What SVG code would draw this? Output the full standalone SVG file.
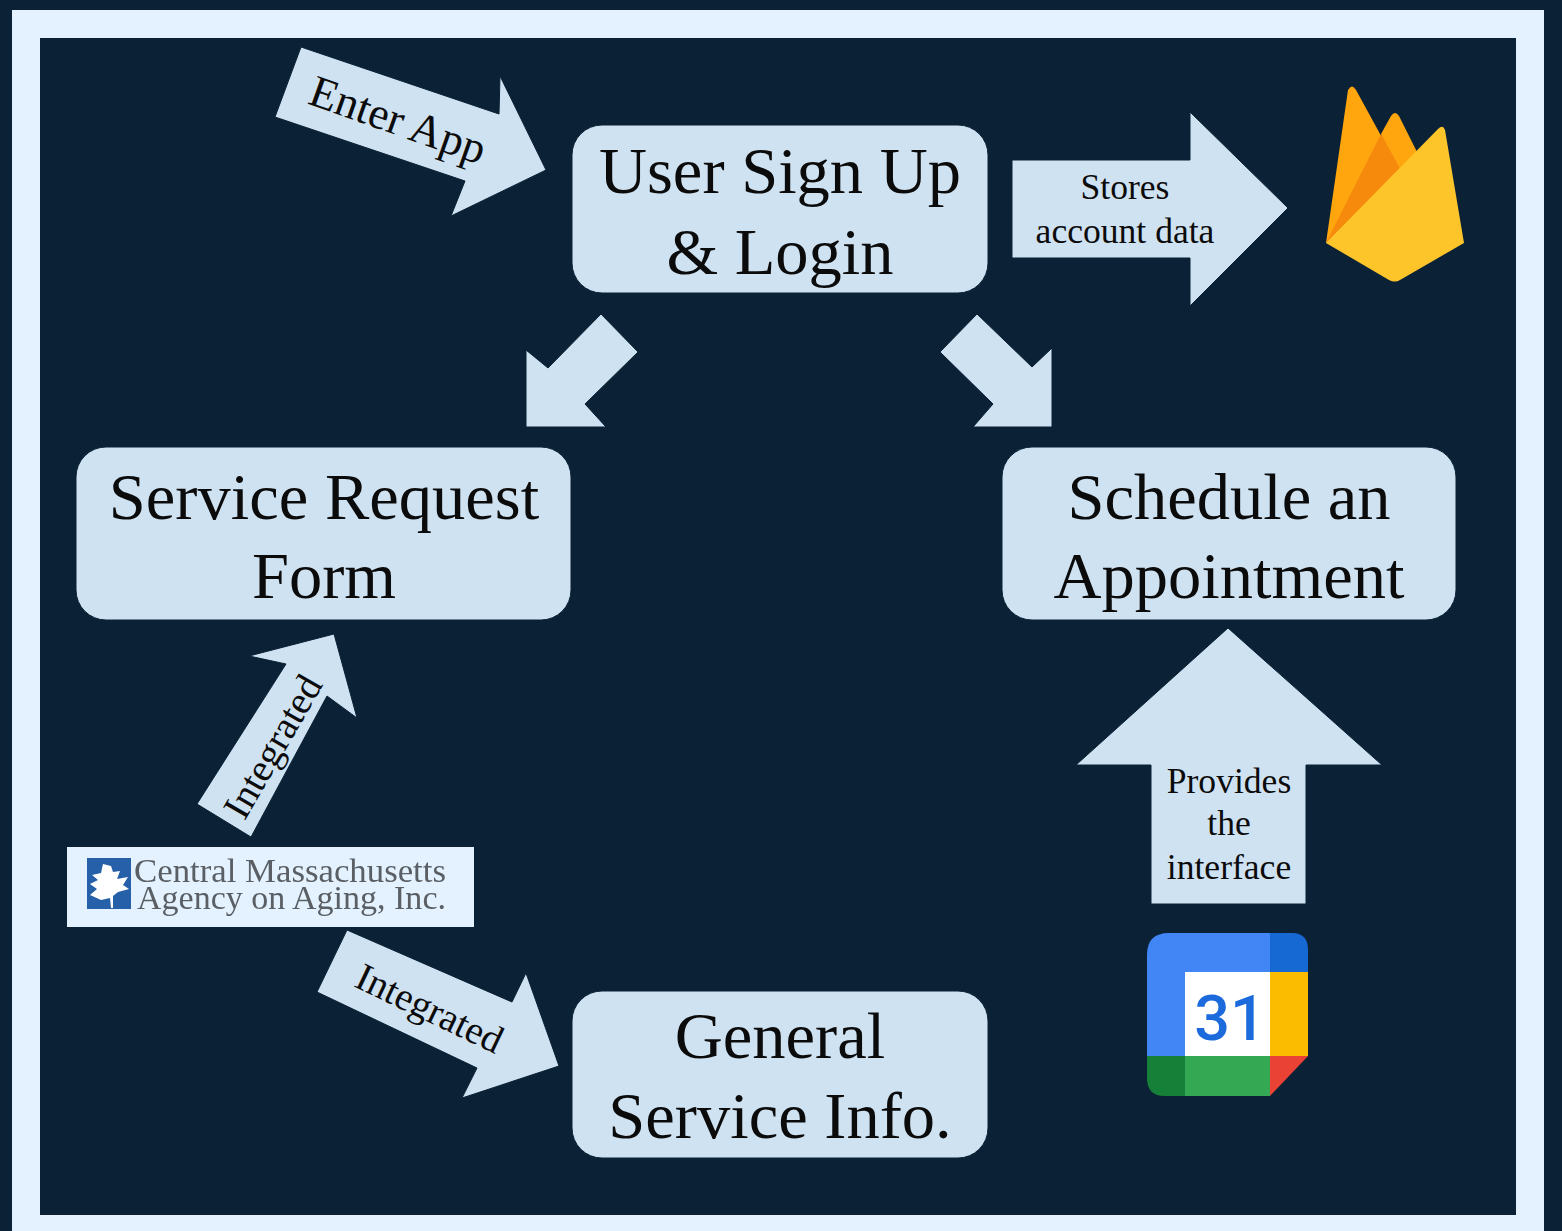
<svg xmlns="http://www.w3.org/2000/svg" width="1562" height="1231" viewBox="0 0 1562 1231">
<style>
.box{fill:#cfe2f1;stroke:#0a2136;stroke-width:1}
.arrow{fill:#cfe2f1;stroke:#0a2136;stroke-width:1}
text{font-family:"Liberation Serif","Times New Roman",serif;fill:#0b0b0b;text-anchor:middle}
.big{font-size:66.5px}
.small{font-size:35.6px}
.diag{font-size:39px}
.logo{font-size:33px;fill:#5a5f65;text-anchor:start}
</style>
<defs><filter id="soft" x="-5%" y="-5%" width="110%" height="110%"><feGaussianBlur stdDeviation="0.7"/></filter></defs>
<rect width="1562" height="1231" fill="#0b2236"/>
<rect x="12" y="10" width="1532" height="1221" fill="#e3f2fe"/>
<rect x="40" y="38" width="1476" height="1177" fill="#0b2236"/>
<g id="connectors">
<polygon class="arrow" points="301,47 499,114 500,76 546,170 451,216 465,181 275,117"/>
<text style="font-size:45px" transform="translate(393,134) rotate(19.5)">Enter App</text>
<polygon class="arrow" points="1012,160 1190,160 1190,112 1288,208 1190,306 1190,258 1012,258"/>
<text class="small" x="1125" y="199">Stores</text>
<text class="small" x="1125" y="243">account data</text>
<polygon class="arrow" points="601,314 638,352 585,404 606,427 526,427 526,350 548,368"/>
<polygon class="arrow" points="977,314 940,352 993,404 973,427 1052,427 1052,348 1032,367"/>
<polygon class="arrow" points="1151,904 1151,765 1076,765 1228,628 1382,765 1306,765 1306,904"/>
<text class="small" x="1229" y="793">Provides</text>
<text class="small" x="1229" y="835">the</text>
<text class="small" x="1229" y="879">interface</text>
<polygon class="arrow" points="197,804 286,664 249,656 334,634 357,718 327,696 251,837"/>
<text class="diag" transform="translate(284,753) rotate(-60)">Integrated</text>
<polygon class="arrow" points="347,930 512,1002 526,973 559,1066 462,1098 477,1068 317,992"/>
<text class="diag" transform="translate(424,1020) rotate(25.5)">Integrated</text>
</g>
<g id="node-login">
<rect class="box" x="572" y="125" width="416" height="168" rx="30"/>
<text class="big" x="780" y="193">User Sign Up</text>
<text class="big" x="780" y="274">&amp; Login</text>
</g>
<g id="node-service">
<rect class="box" x="76" y="447" width="495" height="173" rx="30"/>
<text class="big" x="324" y="519">Service Request</text>
<text class="big" x="324" y="598">Form</text>
</g>
<g id="node-schedule">
<rect class="box" x="1002" y="447" width="454" height="173" rx="30"/>
<text class="big" x="1229" y="519">Schedule an</text>
<text class="big" x="1229" y="598">Appointment</text>
</g>
<g id="node-info">
<rect class="box" x="572" y="991" width="416" height="167" rx="30"/>
<text class="big" x="780" y="1058">General</text>
<text class="big" x="780" y="1138">Service Info.</text>
</g>
<g id="firebase" filter="url(#soft)">
<path d="M1326,243 L1348,90 Q1352,83 1356,90 L1385,143 L1350,225 Z" fill="#ffa50e"/>
<path d="M1381,134 L1391,116 Q1395,110 1399,116 L1417,152 L1400,180 Z" fill="#ffa50e"/>
<path d="M1326,243 L1381,134 L1402,172 Z" fill="#f58a0c"/>
<path d="M1326,243 L1438,129 Q1443,124 1445,130 L1464,243 L1400,280 Q1395,283 1389,280 Z" fill="#fdc52b"/>
</g>
<g id="calendar" filter="url(#soft)">
<path d="M1147,955 Q1147,933 1169,933 L1270,933 L1270,972 L1185,972 L1185,1056 L1147,1056 Z" fill="#4285f4"/>
<path d="M1270,933 L1292,933 Q1308,933 1308,950 L1308,972 L1270,972 Z" fill="#1967d2"/>
<rect x="1185" y="972" width="85" height="84" fill="#fff"/>
<rect x="1270" y="972" width="38" height="84" fill="#fbbc04"/>
<path d="M1147,1056 L1185,1056 L1185,1096 L1165,1096 Q1147,1096 1147,1078 Z" fill="#188038"/>
<rect x="1185" y="1056" width="85" height="40" fill="#34a853"/>
<path d="M1270,1056 L1308,1056 L1270,1096 Z" fill="#ea4335"/>
<text x="1230" y="1040" style="font-family:'Roboto','Liberation Sans',sans-serif;font-size:63px;font-weight:500;fill:#1a6bdc">31</text>
</g>
<g id="cmaa-logo">
<rect x="67" y="847" width="407" height="80" fill="#e3f2fe"/>
<g filter="url(#soft)">
<rect x="87" y="858" width="44" height="51" fill="#2560a8"/>
<path d="M103,864 L111,866 L113,872 L120,871 L117,879 L128,877 L123,885 L129,889 L118,892 L113,896 L113,908 L111,908 L110,898 L101,900 L90,895 L97,889 L90,884 L98,880 L92,875 L101,873 Z" fill="#fff"/>
<text class="logo" x="134" y="882" textLength="312" lengthAdjust="spacingAndGlyphs">Central Massachusetts</text>
<text class="logo" x="137" y="909" textLength="309" lengthAdjust="spacingAndGlyphs">Agency on Aging, Inc.</text>
</g>
</g>
</svg>
